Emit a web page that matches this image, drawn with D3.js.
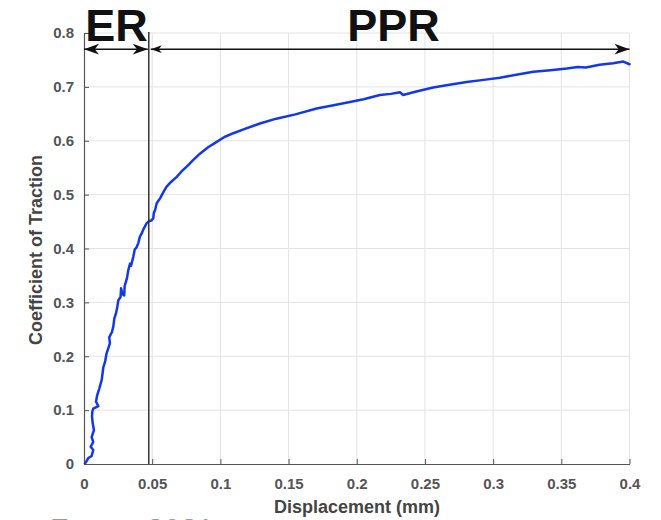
<!DOCTYPE html>
<html>
<head>
<meta charset="utf-8">
<script src="https://cdn.jsdelivr.net/npm/d3@7"></script>
<style>
  html, body { margin: 0; padding: 0; background: #fff; }
  svg { display: block; }
  text { font-family: "Liberation Sans", Arial, Helvetica, sans-serif; }
</style>
</head>
<body>
<svg id="chart" width="661" height="520"></svg>
<script>
// ---- data ----
const displacement = [0.0007,0.002,0.0032,0.0056,0.0068,0.0049,0.0068,0.0056,0.0073,0.0064,0.0059,0.0061,0.0068,0.0105,0.0088,0.0097,0.0112,0.013,0.0142,0.0155,0.0165,0.019,0.0185,0.0205,0.0215,0.0222,0.0235,0.0245,0.0252,0.0268,0.0272,0.0282,0.0295,0.0298,0.0315,0.0325,0.0338,0.0345,0.0362,0.0372,0.0385,0.0398,0.041,0.0423,0.0438,0.046,0.0478,0.0495,0.0508,0.0512,0.0522,0.0533,0.056,0.0585,0.0606,0.064,0.068,0.0715,0.0753,0.08,0.085,0.091,0.0973,0.103,0.1095,0.118,0.129,0.141,0.155,0.1706,0.183,0.195,0.205,0.217,0.225,0.2317,0.234,0.243,0.256,0.268,0.2806,0.293,0.305,0.318,0.3295,0.342,0.354,0.362,0.368,0.378,0.388,0.3955,0.4];
const traction = [0.001,0.006,0.011,0.015,0.026,0.032,0.041,0.05,0.063,0.0755,0.088,0.097,0.103,0.1076,0.1156,0.128,0.14,0.156,0.18,0.19,0.205,0.224,0.235,0.245,0.255,0.27,0.28,0.293,0.304,0.31,0.326,0.315,0.313,0.33,0.345,0.36,0.372,0.368,0.385,0.398,0.402,0.41,0.422,0.428,0.437,0.447,0.451,0.452,0.456,0.466,0.472,0.484,0.494,0.506,0.515,0.524,0.533,0.543,0.552,0.564,0.576,0.588,0.598,0.607,0.614,0.622,0.632,0.641,0.649,0.66,0.666,0.672,0.677,0.685,0.687,0.69,0.685,0.691,0.699,0.704,0.709,0.713,0.717,0.723,0.728,0.731,0.734,0.737,0.736,0.741,0.744,0.747,0.742];
const xTicks = [0,0.05,0.1,0.15,0.2,0.25,0.3,0.35,0.4];
const xTickLabels = ["0","0.05","0.1","0.15","0.2","0.25","0.3","0.35","0.4"];
const yTicks = [0,0.1,0.2,0.3,0.4,0.5,0.6,0.7,0.8];
const yTickLabels = ["0","0.1","0.2","0.3","0.4","0.5","0.6","0.7","0.8"];
const regionBoundary = 0.0475;
const arrowLevel = 0.77;
const regionLabels = ["ER","PPR"];
const xLabel = "Displacement (mm)";
const yLabel = "Coefficient of Traction";
const footText = "Furey 2021";

// ---- layout ----
const svg = d3.select("#chart");
const x = d3.scaleLinear().domain([0,0.4]).range([84,629.5]);
const y = d3.scaleLinear().domain([0,0.8]).range([464,33]);
const gridCol = "#e3e3e3", axisCol = "#555", tickCol = "#555";

// grid
svg.append("g").selectAll("line").data(xTicks.slice(1)).join("line")
  .attr("x1", d=>x(d)).attr("x2", d=>x(d)).attr("y1", y(0)).attr("y2", y(0.8))
  .attr("stroke", gridCol).attr("stroke-width", 1);
svg.append("g").selectAll("line").data(yTicks.slice(1)).join("line")
  .attr("x1", x(0)).attr("x2", x(0.4)).attr("y1", d=>y(d)).attr("y2", d=>y(d))
  .attr("stroke", gridCol).attr("stroke-width", 1);

// axes
const xAxis = d3.axisBottom(x).tickValues(xTicks).tickFormat((d,i)=>xTickLabels[i]).tickSizeInner(-5).tickSizeOuter(0).tickPadding(14);
const gx = svg.append("g").attr("transform", `translate(0,${y(0)})`).call(xAxis);
const yAxis = d3.axisLeft(y).tickValues(yTicks).tickFormat((d,i)=>yTickLabels[i]).tickSizeInner(-5).tickSizeOuter(0).tickPadding(14);
const gy = svg.append("g").attr("transform", `translate(${x(0)},0)`).call(yAxis);
[gx, gy].forEach(g => {
  g.select(".domain").attr("stroke", axisCol).attr("stroke-width", 1.2);
  g.selectAll(".tick line").attr("stroke", axisCol).attr("stroke-width", 1);
  g.selectAll(".tick text").attr("fill", tickCol).attr("font-size", 15).attr("font-weight", "bold")
    .attr("font-family", '"Liberation Sans", Arial, sans-serif');
});
gx.selectAll(".tick text").attr("dy", "0.71em").attr("y", 14);
gy.selectAll(".tick text").attr("x", -10);

// axis labels
svg.append("text").attr("x", 357).attr("y", 513).attr("text-anchor", "middle")
  .attr("font-size", 18).attr("font-weight", "bold").attr("fill", "#444").text(xLabel);
svg.append("text").attr("transform", "translate(42,250) rotate(-90)").attr("text-anchor", "middle")
  .attr("font-size", 18).attr("font-weight", "bold").attr("fill", "#444").text(yLabel);

// data line
const pts = displacement.map((d,i)=>[d, traction[i]]);
svg.append("path").datum(pts)
  .attr("d", d3.line().x(d=>x(d[0])).y(d=>y(d[1])))
  .attr("fill", "none").attr("stroke", "#1238e8").attr("stroke-width", 2.5)
  .attr("stroke-linejoin", "round").attr("stroke-linecap", "round");

// boundary line
svg.append("line").attr("x1", x(regionBoundary)).attr("x2", x(regionBoundary))
  .attr("y1", y(0.8)-1).attr("y2", y(0)).attr("stroke", "#333").attr("stroke-width", 1.5);

// arrows
function head(px, py, dir, len) {
  const w = len*0.36, n = len*0.72;
  return `M${px},${py} L${px+dir*len},${py-w} L${px+dir*n},${py} L${px+dir*len},${py+w} Z`;
}
const ay = y(arrowLevel);
const arrows = [[0, regionBoundary, 15, 15], [regionBoundary, 0.4, 11, 15]];
arrows.forEach(([a,b,l1,l2], i) => {
  const xa = x(a) + (i===1 ? 2 : 0), xb = x(b) - (i===0 ? 1 : 0);
  svg.append("line").attr("x1", xa).attr("x2", xb).attr("y1", ay).attr("y2", ay)
    .attr("stroke", "#111").attr("stroke-width", 1.5);
  svg.append("path").attr("d", head(xa, ay, 1, l1)).attr("fill", "#111");
  svg.append("path").attr("d", head(xb, ay, -1, l2)).attr("fill", "#111");
});

// region labels
svg.append("text").attr("x", (x(0)+x(regionBoundary))/2).attr("y", 40.5).attr("text-anchor", "middle")
  .attr("font-size", 45).attr("font-weight", "bold").attr("fill", "#111").text(regionLabels[0]);
svg.append("text").attr("x", 393.5).attr("y", 40.5).attr("text-anchor", "middle")
  .attr("font-size", 45).attr("font-weight", "bold").attr("fill", "#111").text(regionLabels[1]);

// caption at bottom, cut off by the page edge as in the reference
svg.append("text").attr("x", 50).attr("y", 539).attr("font-size", 30)
  .attr("word-spacing", 12).attr("fill", "#999").text(footText);
</script>
</body>
</html>
